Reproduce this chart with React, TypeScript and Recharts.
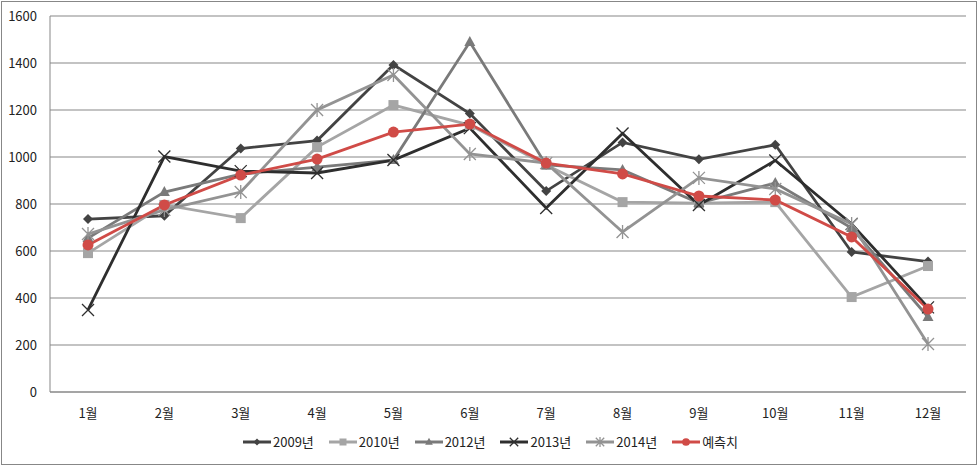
import React from 'react';
import {
  LineChart,
  Line,
  XAxis,
  YAxis,
  CartesianGrid,
  Legend,
} from 'recharts';

const months = ['1월', '2월', '3월', '4월', '5월', '6월', '7월', '8월', '9월', '10월', '11월', '12월'];
const y2009 = [736, 750, 1036, 1070, 1392, 1185, 855, 1062, 990, 1052, 596, 555];
const y2010 = [591, 796, 740, 1042, 1221, 1136, 966, 808, 804, 808, 404, 536];
const y2012 = [655, 851, 927, 957, 987, 1489, 966, 945, 804, 889, 698, 319];
const y2013 = [349, 1002, 940, 932, 987, 1123, 783, 1100, 796, 985, 715, 360];
const y2014 = [672, 775, 851, 1200, 1349, 1013, 974, 681, 911, 864, 715, 204];
const forecast = [626, 796, 923, 991, 1106, 1140, 974, 928, 834, 817, 660, 353];
const yTicks = [0, 200, 400, 600, 800, 1000, 1200, 1400, 1600];

const data = months.map((m, i) => ({
  month: m,
  y2009: y2009[i],
  y2010: y2010[i],
  y2012: y2012[i],
  y2013: y2013[i],
  y2014: y2014[i],
  forecast: forecast[i],
}));

const series = [
  { key: 'y2009', name: '2009년', color: '#434343', shape: 'diamond' },
  { key: 'y2010', name: '2010년', color: '#a5a5a5', shape: 'square' },
  { key: 'y2012', name: '2012년', color: '#7a7a7a', shape: 'triangle' },
  { key: 'y2013', name: '2013년', color: '#2e2e2e', shape: 'x' },
  { key: 'y2014', name: '2014년', color: '#939393', shape: 'star' },
  { key: 'forecast', name: '예측치', color: '#d04b47', shape: 'circle' },
];

const Marker = ({ cx, cy, shape, color, s = 1 }: any) => {
  if (cx == null || cy == null) return null;
  switch (shape) {
    case 'diamond':
      return (
        <path
          d={`M${cx},${cy - 5 * s}L${cx + 5 * s},${cy}L${cx},${cy + 5 * s}L${cx - 5 * s},${cy}Z`}
          fill={color}
        />
      );
    case 'square':
      return <rect x={cx - 5 * s} y={cy - 5 * s} width={10 * s} height={10 * s} fill={color} />;
    case 'triangle':
      return (
        <path
          d={`M${cx},${cy - 6 * s}L${cx + 5.5 * s},${cy + 4 * s}L${cx - 5.5 * s},${cy + 4 * s}Z`}
          fill={color}
        />
      );
    case 'x':
      return (
        <path
          d={`M${cx - 6 * s},${cy - 6 * s}L${cx + 6 * s},${cy + 6 * s}M${cx + 6 * s},${cy - 6 * s}L${cx - 6 * s},${cy + 6 * s}`}
          stroke={color}
          strokeWidth={1.3}
        />
      );
    case 'star':
      return (
        <path
          d={`M${cx - 6 * s},${cy - 6 * s}L${cx + 6 * s},${cy + 6 * s}M${cx + 6 * s},${cy - 6 * s}L${cx - 6 * s},${cy + 6 * s}M${cx},${cy - 7 * s}L${cx},${cy + 7 * s}`}
          stroke={color}
          strokeWidth={1.3}
        />
      );
    default:
      return <circle cx={cx} cy={cy} r={5.5 * s} fill={color} />;
  }
};

const LegendContent = () => (
  <div style={{ display: 'flex', justifyContent: 'center', gap: 14, marginLeft: 14 }}>
    {series.map((s) => (
      <div key={s.key} style={{ display: 'flex', alignItems: 'center' }}>
        <svg width={30} height={14}>
          <line x1={1} y1={7} x2={29} y2={7} stroke={s.color} strokeWidth={3} />
          <Marker cx={15} cy={7} shape={s.shape} color={s.color} s={0.7} />
        </svg>
        <span style={{ fontSize: 13, color: '#222', marginLeft: 1 }}>{s.name}</span>
      </div>
    ))}
  </div>
);

const App = () => {
  return (
    <div
      style={{
        position: 'absolute',
        left: 0,
        top: 0,
        width: 980,
        height: 465,
        background: '#fff',
        fontFamily: '"Noto Sans CJK KR", "Noto Sans", sans-serif',
      }}
    >
      <div
        style={{
          position: 'absolute',
          left: 1,
          top: 1,
          width: 974,
          height: 462,
          border: '1px solid #878787',
        }}
      />
      <LineChart
        width={980}
        height={465}
        data={data}
        margin={{ top: 16, right: 14, left: 0, bottom: 0 }}
      >
        <CartesianGrid vertical={false} stroke="#878787" strokeWidth={1} />
        <XAxis
          dataKey="month"
          axisLine={{ stroke: '#878787' }}
          tickLine={false}
          tickMargin={11}
          height={40}
          padding={{ left: 38, right: 38 }}
          tick={{ fontSize: 13, fill: '#222' }}
        />
        <YAxis
          domain={[0, 1600]}
          ticks={yTicks}
          width={50}
          axisLine={{ stroke: '#878787' }}
          tickLine={false}
          tickMargin={7}
          tick={{ fontSize: 13, fill: '#222' }}
        />
        <Legend
          verticalAlign="bottom"
          height={33}
          content={<LegendContent />}
        />
        {series.map((s) => (
          <Line
            key={s.key}
            dataKey={s.key}
            name={s.name}
            stroke={s.color}
            strokeWidth={2.8}
            isAnimationActive={false}
            dot={(p: any) => (
              <Marker key={`${s.key}-${p.index}`} cx={p.cx} cy={p.cy} shape={s.shape} color={s.color} />
            )}
            activeDot={false}
          />
        ))}
      </LineChart>
    </div>
  );
};

export default App;
